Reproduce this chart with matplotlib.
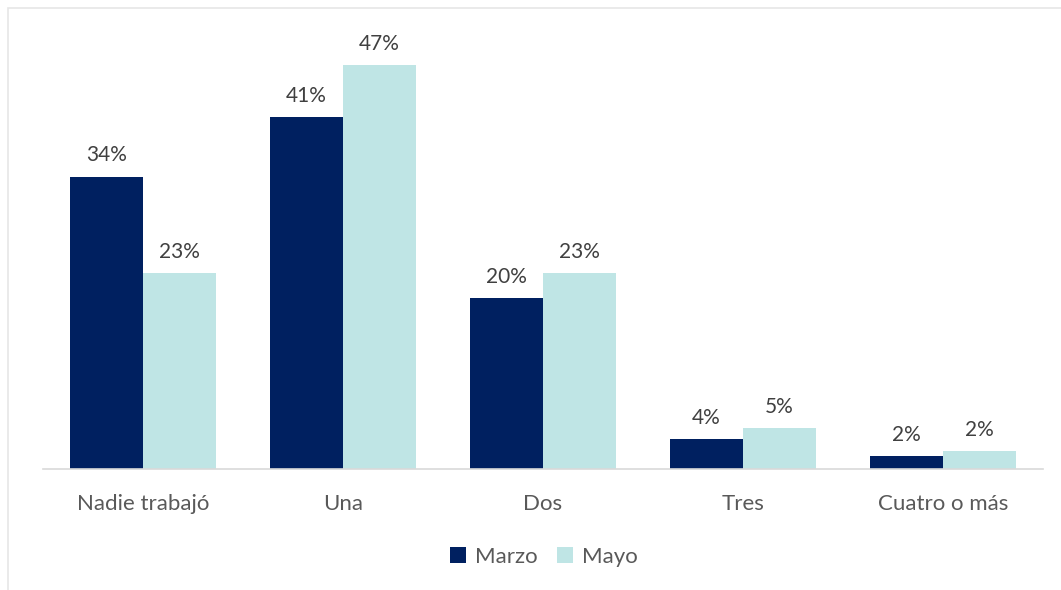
import matplotlib
matplotlib.use("Agg")
from matplotlib import pyplot as plt
from matplotlib.patches import Rectangle
import numpy as np

categories = ["Nadie trabajó", "Una", "Dos", "Tres", "Cuatro o más"]
marzo = [34.0, 40.9, 19.9, 3.5, 1.5]
mayo = [22.8, 47.0, 22.8, 4.8, 2.1]
series_names = ["Marzo", "Mayo"]

plt.rcParams["font.family"] = ["Lato", "DejaVu Sans"]

fig = plt.figure(figsize=(10.61, 5.90), dpi=100)
W, H = 1061, 590
ax = fig.add_axes([43 / W, (H - 469) / H, 1000 / W, 430 / H])

# light outer frame like the spreadsheet chart area
fig.patches.append(Rectangle((8 / W, -0.1), 1.2, (H - 8) / H + 0.1,
                             transform=fig.transFigure, fill=False,
                             edgecolor="#E6E6E6", linewidth=1.2))

x = np.arange(len(categories))
w = 0.365
b1 = ax.bar(x - w / 2, marzo, w, color="#002060", label=series_names[0])
b2 = ax.bar(x + w / 2, mayo, w, color="#BFE5E5", label=series_names[1])

for bars in (b1, b2):
    for rect in bars:
        v = rect.get_height()
        ax.annotate(f"{v:.0f}%", (rect.get_x() + rect.get_width() / 2, v),
                    xytext=(0, 8), textcoords="offset points",
                    ha="center", va="bottom", fontsize=15, color="#404040")

ax.set_xlim(-0.5, len(categories) - 0.5)
ax.set_ylim(0, 50)
ax.set_xticks(x)
ax.set_xticklabels(categories, fontsize=16, color="#595959")
ax.tick_params(axis="x", length=0, pad=18)
ax.set_yticks([])
for side in ("top", "right", "left"):
    ax.spines[side].set_visible(False)
ax.spines["bottom"].set_color("#D9D9D9")
ax.spines["bottom"].set_linewidth(1.2)

fig.legend(loc="center", bbox_to_anchor=(544 / W, (H - 557) / H), ncol=2,
           frameon=False, fontsize=16, labelcolor="#595959",
           handlelength=0.7, handleheight=0.7, handletextpad=0.4,
           columnspacing=0.9)

fig.savefig("out.png", dpi=100)
